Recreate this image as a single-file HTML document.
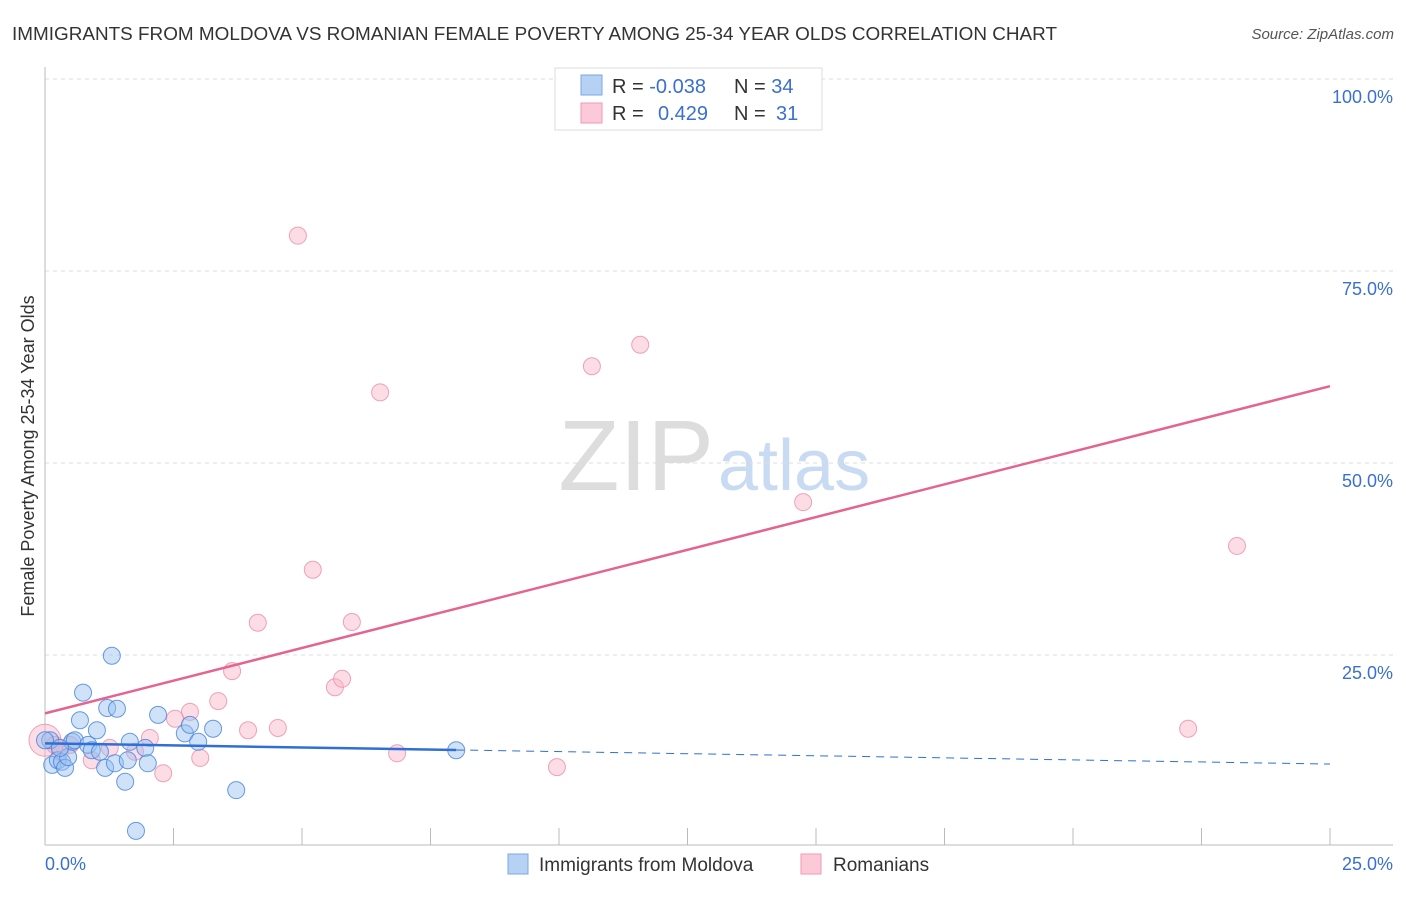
<!DOCTYPE html>
<html><head><meta charset="utf-8"><style>
body{margin:0;background:#fff;font-family:"Liberation Sans",sans-serif;}
svg text{font-family:"Liberation Sans",sans-serif;}
</style></head><body>
<svg id="c" width="1406" height="892" xmlns="http://www.w3.org/2000/svg">
<text x="12" y="40" font-size="18" fill="#333" textLength="1045" lengthAdjust="spacingAndGlyphs">IMMIGRANTS FROM MOLDOVA VS ROMANIAN FEMALE POVERTY AMONG 25-34 YEAR OLDS CORRELATION CHART</text>
<text x="1394" y="39" font-size="15" fill="#555" font-style="italic" text-anchor="end">Source: ZipAtlas.com</text>
<text x="714" y="490" font-size="100" fill="#ddd" text-anchor="end" font-family="Liberation Serif">ZIP</text>
<text x="718" y="490" font-size="72" fill="#c9daf3">atlas</text>
<text transform="translate(34,456) rotate(-90)" font-size="18" fill="#333" text-anchor="middle">Female Poverty Among 25-34 Year Olds</text>
<g id="grid"></g><g id="pts"></g><g id="trend"></g>
<g>
<rect x="555" y="68" width="267" height="62" fill="#fff" stroke="#ddd"/>
<rect x="581" y="75" width="21" height="20" fill="#b7d1f5" stroke="#7aa7e6"/>
<rect x="581" y="103" width="21" height="20" fill="#fbc9d8" stroke="#ef9ab5"/>
<text x="612" y="93" font-size="20" fill="#333">R = <tspan fill="#3a70d0">-0.038</tspan></text>
<text x="734" y="93" font-size="20" fill="#333">N = <tspan fill="#3a70d0">34</tspan></text>
<text x="612" y="120" font-size="20" fill="#333">R = </text><text x="658" y="120" font-size="20" fill="#3a70d0">0.429</text>
<text x="734" y="120" font-size="20" fill="#333">N = </text><text x="776" y="120" font-size="20" fill="#3a70d0">31</text>
</g>
<g>
<rect x="508" y="854" width="20" height="20" fill="#b7d1f5" stroke="#7aa7e6"/>
<text x="539" y="871" font-size="19" fill="#333">Immigrants from Moldova</text>
<rect x="801" y="854" width="20" height="20" fill="#fbc9d8" stroke="#ef9ab5"/>
<text x="833" y="871" font-size="19" fill="#333">Romanians</text>
</g>
</svg>
<script>
const yTicks=[25,50,75,100];
const yTickLabels=["25.0%","50.0%","75.0%","100.0%"];
const xTicks=[0,2.5,5,7.5,10,12.5,15,17.5,20,22.5,25];
const blueX=[0.10,0.14,0.25,0.33,0.39,0.45,0.53,0.58,0.68,0.74,0.84,0.91,1.01,1.07,1.17,1.21,1.30,1.36,1.40,1.56,1.61,1.65,1.77,1.95,2.00,2.20,2.72,2.82,2.98,3.27,3.72,8.00,0,0.29];
const blueY=[13.9,10.7,11.3,11.1,10.3,11.7,13.7,13.9,16.5,20.1,13.3,12.6,15.2,12.4,10.3,18.1,24.9,10.9,18.0,8.5,11.3,13.7,2.1,12.9,10.9,17.2,14.8,15.9,13.7,15.4,7.4,12.6,13.9,12.9];
const pinkX=[0,4.92,6.52,10.64,11.58,12.51,14.75,23.19,22.24,9.96,6.85,5.21,5.97,4.14,3.64,5.64,5.78,3.37,2.82,2.53,3.95,4.53,3.02,2.30,2.04,1.75,1.26,0.91,0.49,0.29,0.19];
const pinkY=[13.9,79.6,59.2,62.6,65.4,100.3,44.9,39.2,15.4,10.4,12.2,36.1,29.3,29.2,22.9,20.8,21.9,19.0,17.6,16.7,15.2,15.5,11.6,9.6,14.2,12.4,12.9,11.3,13.3,12.4,13.3];
const pinkTrend=[17.4,60.0];
const blueTrend=[13.5,10.8];
const blueSolidEnd=8.0;

const NS="http://www.w3.org/2000/svg";
const X=v=>45+v/25*1285;
const Y=v=>847-v/25*192;
function mk(tag,attrs,parent){const e=document.createElementNS(NS,tag);for(const k in attrs)e.setAttribute(k,attrs[k]);parent.appendChild(e);return e;}
const grid=document.getElementById('grid');
yTicks.forEach((t,i)=>{
 const l=mk('line',{x1:45,x2:1393,y1:Y(t),y2:Y(t),stroke:'#ddd','stroke-dasharray':'4,4'},grid);
 
 
 const tx=mk('text',{x:1393,y:Y(t)+24,'font-size':18,fill:'#3a70d0','text-anchor':'end'},grid);
 tx.textContent=yTickLabels[i];
 
 
});
const ax=mk('line',{x1:45,x2:45,y1:67,y2:845,stroke:'#bbb'},grid);


const bx=mk('line',{x1:45,x2:1393,y1:845,y2:845,stroke:'#bbb'},grid);


xTicks.forEach(t=>{
 const l=mk('line',{x1:X(t),x2:X(t),y1:828,y2:845,stroke:'#bbb'},grid);
 
 
});
[[0,'0.0%','start',45],[25,'25.0%','end',1393]].forEach(d=>{
 const tx=mk('text',{x:d[3],y:870,'font-size':18,fill:'#3a70d0','text-anchor':d[2]},grid);
 tx.textContent=d[1];
 
 
});
const pts=document.getElementById('pts');
pinkX.forEach((x,i)=>{
 const c=mk('circle',{cx:X(x),cy:Y(pinkY[i]),r:i===0?16:8.5,fill:'rgba(248,180,200,0.45)',stroke:'rgba(236,140,170,0.8)','stroke-width':1},pts);
 
 
});
blueX.forEach((x,i)=>{
 const c=mk('circle',{cx:X(x),cy:Y(blueY[i]),r:8.5,fill:'rgba(150,190,240,0.45)',stroke:'rgba(70,130,220,0.8)','stroke-width':1},pts);
 
 
});
const tr=document.getElementById('trend');
const bAt=v=>blueTrend[0]+(blueTrend[1]-blueTrend[0])*v/25;
const p=mk('line',{x1:X(0),y1:Y(pinkTrend[0]),x2:X(25),y2:Y(pinkTrend[1]),stroke:'#e5648f','stroke-width':2.5},tr);


const b1=mk('line',{x1:X(0),y1:Y(blueTrend[0]),x2:X(blueSolidEnd),y2:Y(bAt(blueSolidEnd)),stroke:'#2f6fd6','stroke-width':2.5},tr);


const b2=mk('line',{x1:X(blueSolidEnd),y1:Y(bAt(blueSolidEnd)),x2:X(25),y2:Y(blueTrend[1]),stroke:'#2f6fd6','stroke-width':1,'stroke-dasharray':'8,6'},tr);


</script>
</body></html>
